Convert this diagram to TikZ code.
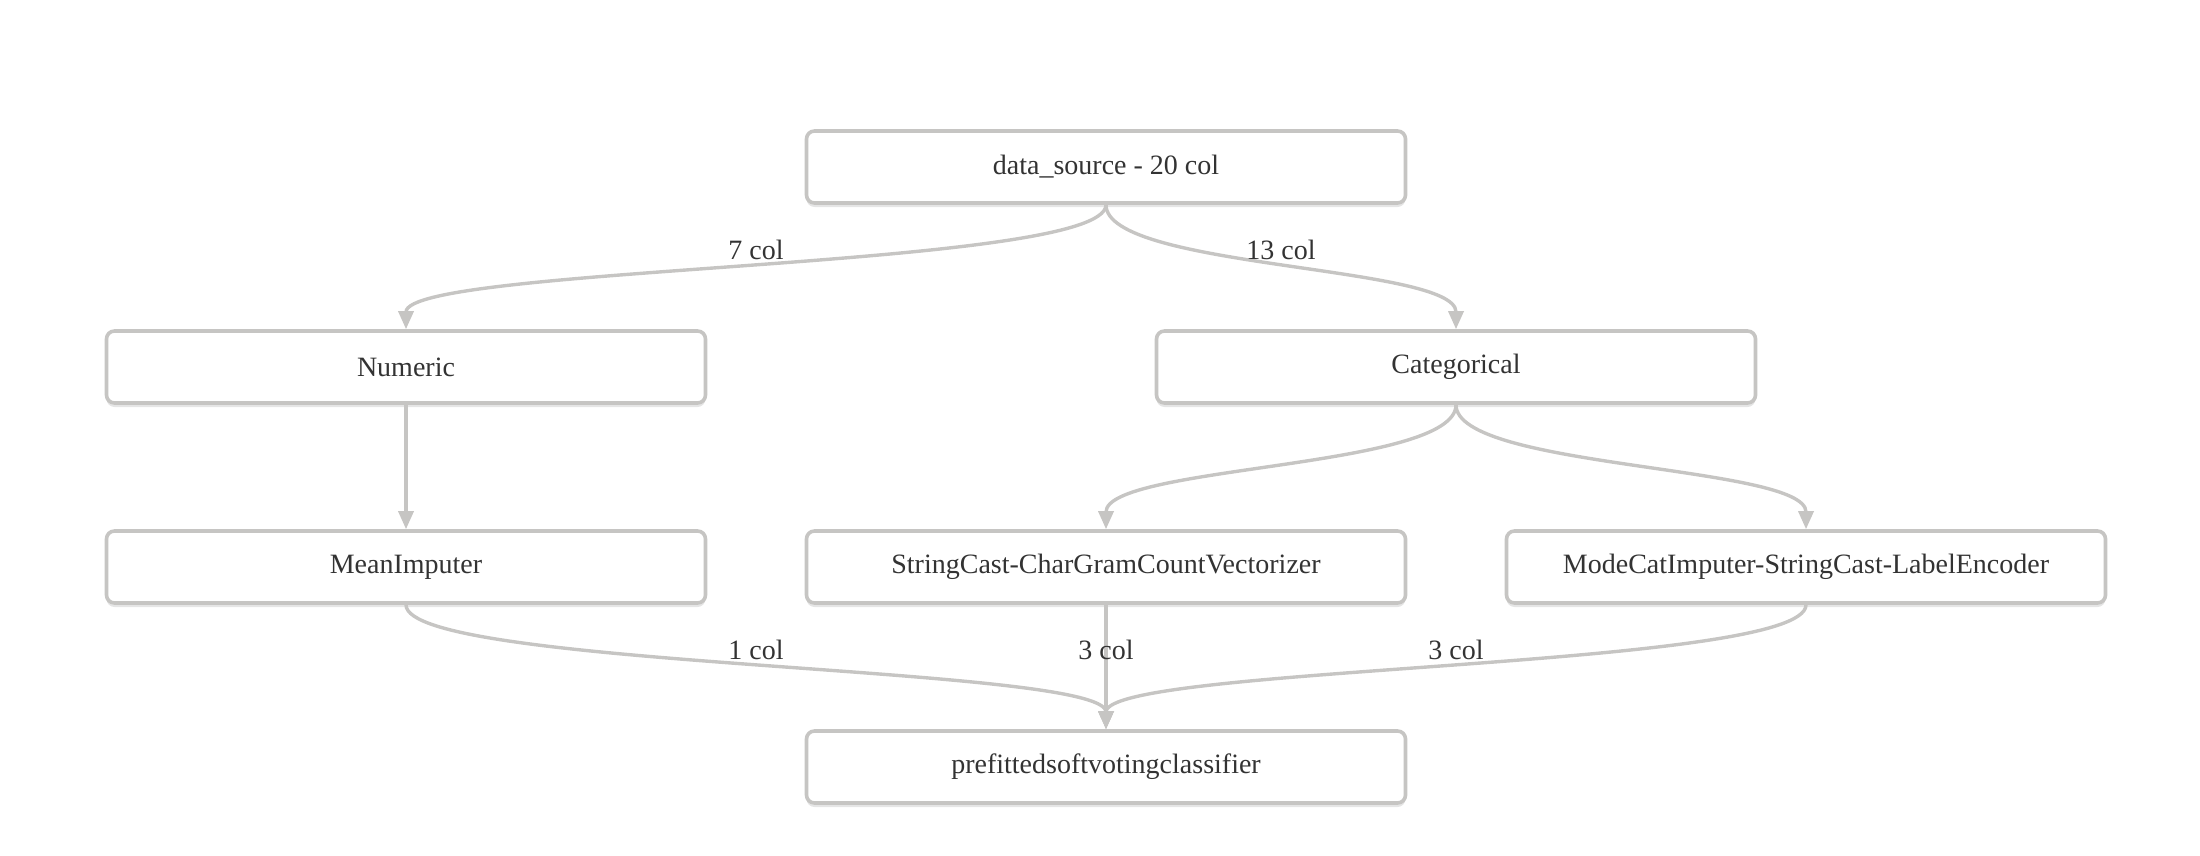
\documentclass[tikz,border=0pt]{standalone}
\usepackage{fontspec}
\setmainfont{Liberation Serif}
\usetikzlibrary{arrows.meta,shadows}
\definecolor{edgegray}{HTML}{C6C5C3}
\definecolor{txt}{HTML}{333333}
\tikzset{
  box/.style={draw=edgegray, line width=1.8pt, rounded corners=4pt, fill=white,
    minimum width=299.5pt, minimum height=36pt, inner sep=0pt,
    text=txt, font=\fontsize{14}{16}\selectfont,
    drop shadow={shadow xshift=0pt, shadow yshift=-2pt, opacity=0.10, fill=black}},
  conn/.style={draw=edgegray, line width=1.7pt, -{Triangle[length=9pt,width=7.5pt]}},
  elabel/.style={text=txt, font=\fontsize{14}{16}\selectfont, yshift=8.5pt, inner sep=0pt},
}
\begin{document}
\begin{tikzpicture}[x=0.5pt,y=-0.5pt]
\useasboundingbox (0,0) rectangle (2200,856);
\node[box] (ds)   at (1106,167) {data\_source - 20 col};
\node[box] (num)  at (406,367)  {Numeric};
\node[box] (cat)  at (1456,367) {Categorical};
\node[box] (mean) at (406,567)  {MeanImputer};
\node[box] (sc)   at (1106,567) {StringCast-CharGramCountVectorizer};
\node[box] (mode) at (1806,567) {ModeCatImputer-StringCast-LabelEncoder};
\node[box] (pre)  at (1106,767) {prefittedsoftvotingclassifier};

\draw[conn] (ds.south) .. controls +(0,64) and +(0,-64) .. node[elabel]{7 col} (num.north);
\draw[conn] (ds.south) .. controls +(0,64) and +(0,-64) .. node[elabel]{13 col} (cat.north);
\draw[conn] (num.south) -- (mean.north);
\draw[conn] (cat.south) .. controls +(0,64) and +(0,-64) .. (sc.north);
\draw[conn] (cat.south) .. controls +(0,64) and +(0,-64) .. (mode.north);
\draw[conn] (mean.south) .. controls +(0,64) and +(0,-64) .. node[elabel]{1 col} (pre.north);
\draw[conn] (sc.south) -- node[elabel]{3 col} (pre.north);
\draw[conn] (mode.south) .. controls +(0,64) and +(0,-64) .. node[elabel]{3 col} (pre.north);
\end{tikzpicture}
\end{document}
